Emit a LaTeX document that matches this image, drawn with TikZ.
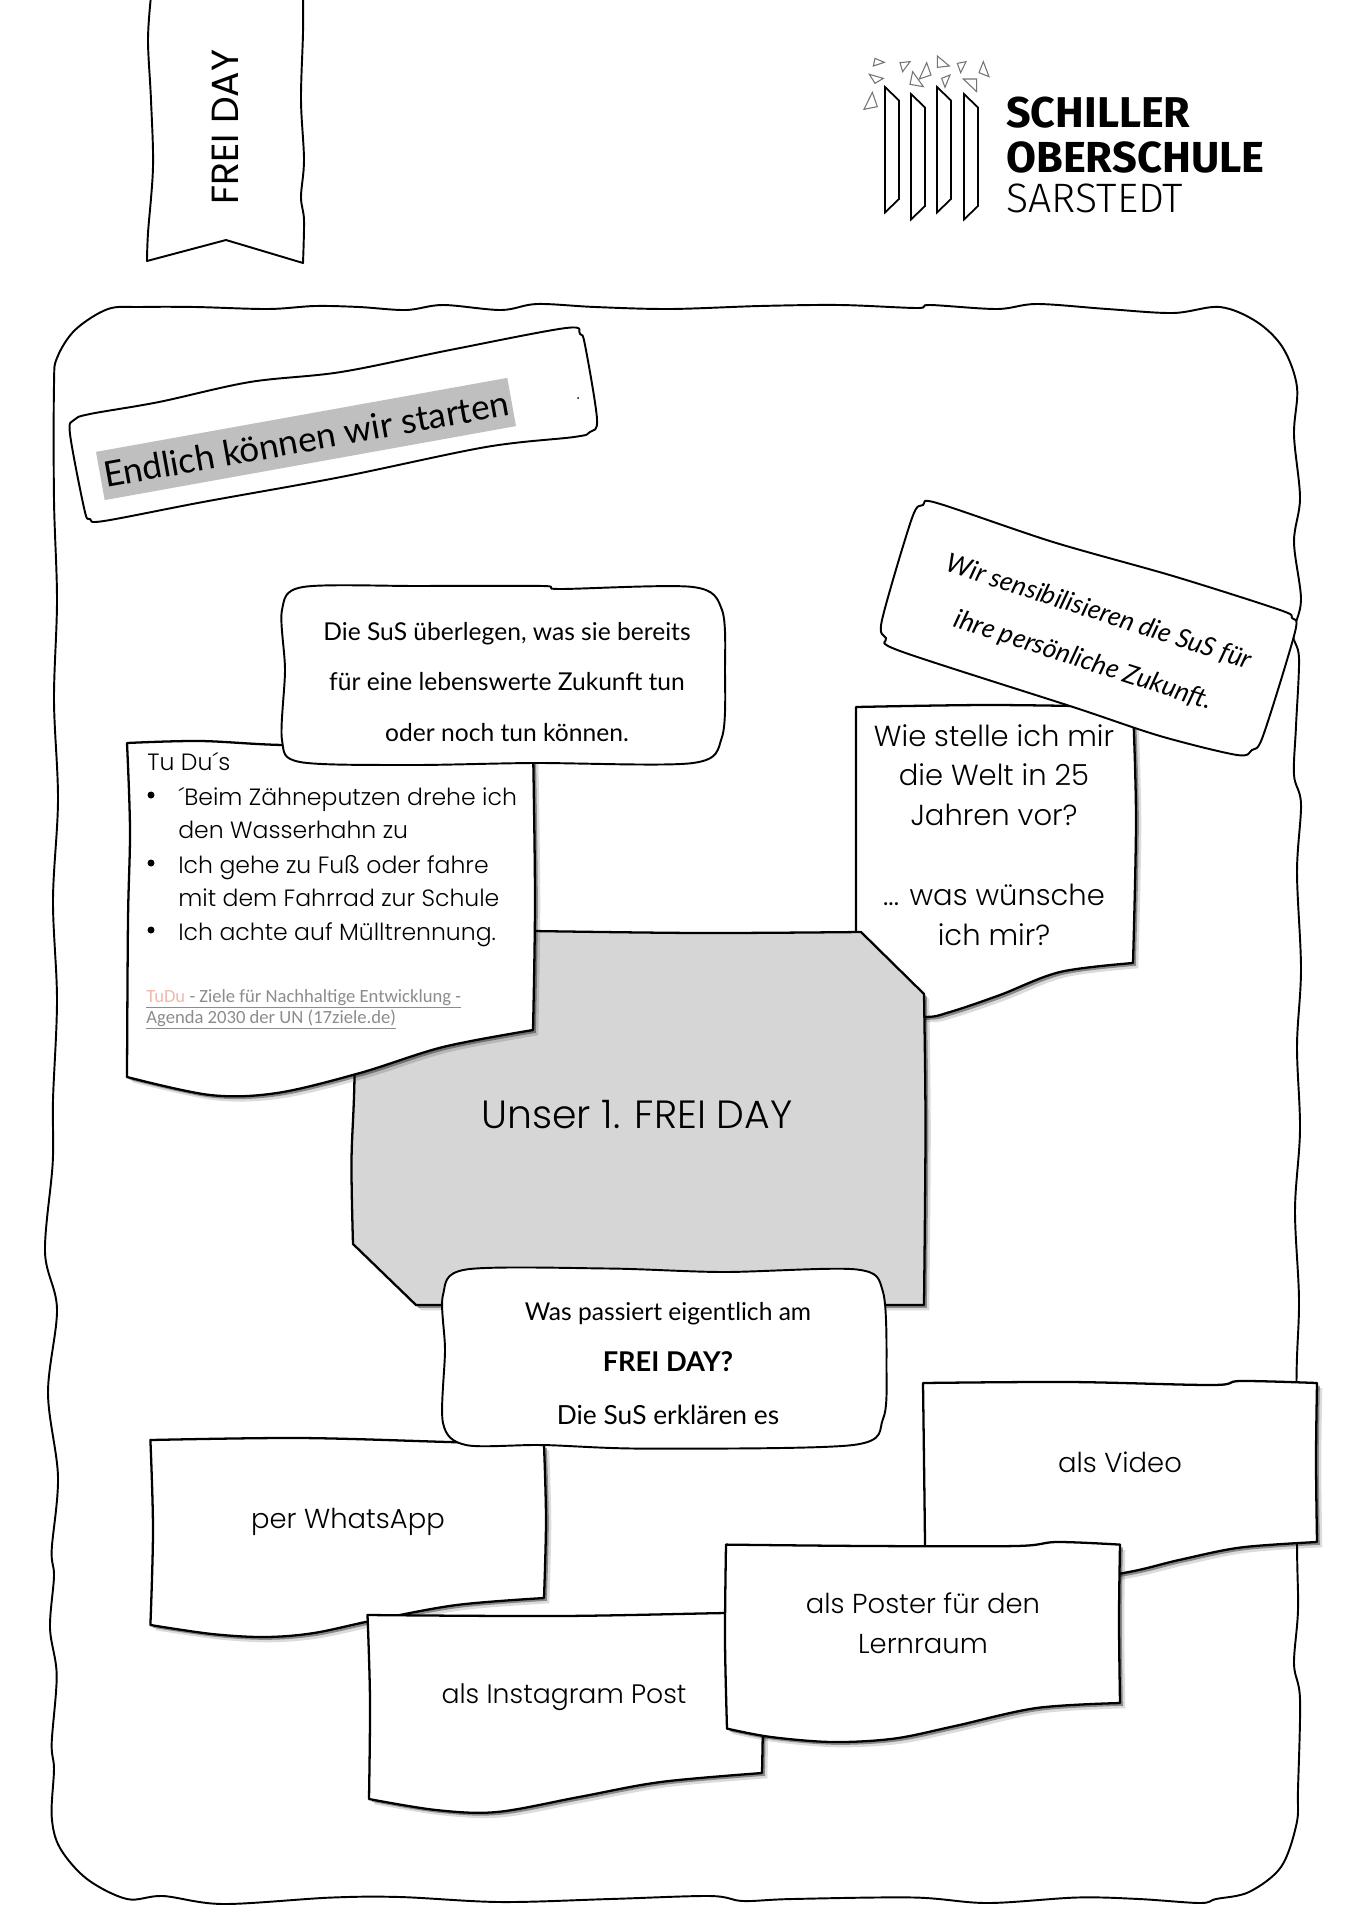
\documentclass[tikz,border=0pt]{standalone}
\usepackage{fontspec}
\setmainfont{Poppins}[UprightFont=* Light]
\newfontfamily\bannerfont{Poppins}
\newfontfamily\handfont{Lato}
\newfontfamily\linkfont{Carlito}
\newfontfamily\logofont{Fira Sans}[UprightFont=* Light,BoldFont=* Bold]
\usetikzlibrary{shadows}
\definecolor{boxgrey}{HTML}{D6D6D6}
\definecolor{markgrey}{HTML}{BFBFBF}
\definecolor{linkgrey}{HTML}{8C8C8C}
\definecolor{linkpink}{HTML}{F0B9AE}
\tikzset{
  outline/.style={draw=black,line width=1.1pt,fill=white,line join=round},
  note/.style={outline,line width=1.3pt,
     drop shadow={shadow xshift=3pt,shadow yshift=-3pt,fill=black,opacity=0.14},
     drop shadow={shadow xshift=1.6pt,shadow yshift=-1.6pt,fill=black,opacity=0.38}},
  tri/.style={draw=black!55,line width=0.6pt},
  bar/.style={draw=black,line width=1pt},
  logotext/.style={inner sep=0pt,anchor=base west},
  schrift/.style={inner sep=0pt,align=center,font=\fontsize{15.6}{22.5}\selectfont},
  hand/.style={inner sep=0pt,align=center,font=\handfont\fontsize{14}{29}\selectfont},
  linktext/.style={inner sep=0pt,anchor=base west,text=linkgrey,font=\linkfont\fontsize{10.6}{10.6}\selectfont},
  wave/.style={smooth,tension=0.55}
}
\begin{document}
\begin{tikzpicture}[x=0.02cm,y=-0.02cm]
    \useasboundingbox (0,0) rectangle (1355,1920);

    % banner
    \path[outline] plot[wave] coordinates {(151,-4) (148,40) (151,100) (153,167) (148,233) (147,261)}
       -- (226,240) -- (303,263)
       -- plot[wave] coordinates {(303,263) (304,220) (301,197) (304,160) (301,100) (303,33) (303,-4)} -- cycle;
    \node[inner sep=0pt,rotate=90,font=\bannerfont\fontsize{21.5}{20}\selectfont] (bannertext) at (225,127) {FREI DAY};

    % logo
    \foreach \x/\y in {885/87,911/94,937/87,964/94}
       \draw[bar] (\x,\y) -- +(14,13.5) -- +(14,112) -- +(0,125.5) -- cycle;
    \begin{scope}[shift={(830,30)},x=0.02cm/3,y=-0.02cm/3]
       \foreach \ax/\ay/\bx/\by/\cx/\cy in {130/108/163/97/135/85,210/98/240/95/218/125,118/133/160/145/135/160,
          290/98/303/135/268/147,248/125/280/170/240/163,322/78/358/108/322/112,382/100/408/95/392/128,
          460/95/477/140/447/128,335/145/360/135/345/172,400/147/440/147/440/185,127/187/142/230/102/238}
          \draw[tri] (\ax,\ay) -- (\bx,\by) -- (\cx,\cy) -- cycle;
    \end{scope}
    \node[logotext,font=\logofont\bfseries\fontsize{24.5}{28}\selectfont] (schiller) at (1006,127) {SCHILLER};
    \node[logotext,font=\logofont\bfseries\fontsize{24.7}{28}\selectfont] (oberschule) at (1006,172) {OBERSCHULE};
    \node[logotext,font=\logofont\fontsize{23.4}{28}\selectfont] (sarstedt) at (1006,212) {SARSTEDT};

    % frame
    \draw[black,line width=1.1pt] plot[smooth cycle,tension=0.55] coordinates {
       (54,385) (57,358) (75,330) (108,309) (141,307) (195,307) (268,309) (315,306) (359,307) (406,310)
       (443,305) (501,310) (537,304) (595,307) (670,309) (760,306) (840,305) (917,308) (930,305) (997,309)
       (1037,304) (1107,309) (1173,313) (1220,307) (1257,322) (1283,348) (1297,387) (1294,435) (1300,498)
       (1294,542) (1301,600) (1293,634) (1299,658) (1296,726) (1294,775) (1301,804) (1297,872) (1301,969)
       (1297,1046) (1300,1130) (1295,1210) (1299,1300) (1296.5,1380) (1297,1544) (1298,1610) (1294,1664)
       (1300,1699) (1298,1789) (1296.5,1824) (1281,1867) (1249,1892) (1216,1899) (1200,1903) (1139,1899)
       (1077,1897.5) (987.5,1903) (914,1897.5) (792,1899) (743,1901) (710,1896) (610,1899) (500,1902)
       (400,1897) (330,1897.6) (223,1904) (163,1896) (127,1899) (87,1879) (60,1848) (51.7,1816.5) (54,1769)
       (51.7,1743) (56.7,1675) (50,1628) (54,1576) (51.7,1550) (58,1476.6) (48,1393) (57,1309) (45,1252)
       (52.7,1163) (53,1100) (57,1000) (53,900) (58,800) (54,700) (57,600) (54,500)};

    % title box
    \path[outline] plot[smooth cycle,tension=0.55] coordinates {(90,414) (74,420) (70,434) (84.5,510) (90,519) (104,521) (203,502)
       (341,477) (486,447) (574,437) (590,432) (597,419) (585,345) (580,334) (566,328) (450,350) (341,372) (250,382) (159,402)};
    \node[fill=markgrey,rotate=10.2,minimum width=8.36cm,minimum height=0.98cm,inner sep=0pt,
       font=\handfont\fontsize{20}{26}\selectfont] (endlich) at (306,439) {Endlich können wir starten};
    \fill (578,398) circle (1);

    % upper right note
    \path[note] plot[wave] coordinates {(856,707) (990,705) (1133,707)}
       -- plot[wave] coordinates {(1133,707) (1136,820) (1133,963)}
       -- plot[wave] coordinates {(1133,963) (1060,972) (1000,995) (950,1012) (923,1017) (856,1012)} -- cycle;
    \node[schrift,font=\fontsize{16.5}{22.7}\selectfont] (welt) at (994,835) {Wie stelle ich mir\\die Welt in 25\\Jahren vor?\\[0pt]\\... was wünsche\\ich mir?};

    % upper right bubble
    \path[outline] plot[smooth cycle,tension=0.5] coordinates {(937,503) (923,505) (912,518) (882,620) (886,638) (900,651) (1073,707)
       (1160,736) (1237,755) (1252,750) (1263,736) (1295,632) (1292,618) (1280,610) (1173,576) (1053,542)};
    \node[hand,rotate=-18,font=\handfont\itshape\fontsize{15}{28.5}\selectfont] (zukunft) at (1091,637) {Wir sensibilisieren die SuS für\\ihre persönliche Zukunft.};

    % centre
    \path[note,fill=boxgrey] (354,930) -- plot[wave] coordinates {(533,931) (700,933) (861,932)} -- (924,994)
       -- plot[wave] coordinates {(924,994) (925.5,1127) (924,1305)} -- (416,1305) -- (353,1244)
       -- plot[wave] coordinates {(353,1244) (351.5,1161) (354.5,1075) (354,930)} -- cycle;
    \node[schrift,font=\fontsize{22.4}{24}\selectfont] (freiday) at (637,1115) {Unser 1. FREI DAY};

    % left note
    \path[note] plot[wave] coordinates {(127,743) (200,741) (283,745) (400,745) (533,745)}
       -- plot[wave] coordinates {(533,745) (535,900) (533,1030)}
       -- plot[wave] coordinates {(533,1030) (443,1047) (360,1073) (277,1093) (210,1095) (127,1077)}
       -- plot[wave] coordinates {(127,1077) (128,920) (130,830) (127,743)} -- cycle;
    \node[schrift,anchor=base west,font=\fontsize{13.4}{13}\selectfont] (tudu) at (147,770) {Tu Du´s};
    \foreach \y/\t [count=\i] in {805/{´Beim Zähneputzen drehe ich},838/{den Wasserhahn zu},873/{Ich gehe zu Fuß oder fahre},
        906/{mit dem Fahrrad zur Schule},940/{Ich achte auf Mülltrennung.}}
       \node[schrift,anchor=base west,font=\fontsize{13.4}{13}\selectfont] (tudu\i) at (178,\y) {\t};
    \foreach \y in {795,863,930}
       \fill (151,\y) circle (3.5);
    \node[linktext] (linka) at (146,1002)
       {\underline{\textcolor{linkpink}{TuDu} - Ziele für Nachhaltige Entwicklung -}};
    \node[linktext] (linkb) at (146,1023)
       {\underline{Agenda 2030 der UN (17ziele.de)}};

    % upper left bubble
    \path[outline] plot[smooth cycle,tension=0.5] coordinates {(303,587) (282,610) (285,670) (282,740) (300,762)
       (410,765) (533,763) (693,763) (722,737) (725,670) (722,610) (693,587) (560,589) (543,586) (420,586)};
    \node[hand] (bereits) at (507,682) {Die SuS überlegen, was sie bereits\\[0pt]für eine lebenswerte Zukunft tun\\oder noch tun können.};

    % bottom notes
    \path[note] plot[wave] coordinates {(150.4,1440) (300,1438) (448,1442) (544,1445)}
       -- plot[wave] coordinates {(544,1445) (546,1520) (544,1598)}
       -- plot[wave] coordinates {(544,1598) (456.5,1605) (375,1620) (314,1633) (265,1637) (212,1634) (150.4,1625)}
       -- plot[wave] coordinates {(150.4,1625) (153,1530) (150.4,1440)} -- cycle;
    \node[schrift] (whatsapp) at (348,1522) {per WhatsApp};

    \path[note] plot[wave] coordinates {(923,1383) (1070,1382) (1212,1385) (1240.6,1381) (1317,1383)}
       -- plot[wave] coordinates {(1317,1383) (1316,1460) (1317,1542)}
       -- plot[wave] coordinates {(1317,1542) (1240.6,1547.5) (1179,1560) (1120,1573.6) (1000,1590) (925,1600)}
       -- plot[wave] coordinates {(925,1600) (925,1544) (923,1383)} -- cycle;
    \node[schrift] (video) at (1120,1462) {als Video};

    \path[note] plot[wave] coordinates {(367.5,1615) (560,1616) (726,1613) (761,1613)}
       -- plot[wave] coordinates {(761,1613) (763,1700) (762,1773)}
       -- plot[wave] coordinates {(762,1773) (660.6,1782) (579,1797) (497,1812) (436,1810) (369,1799)}
       -- plot[wave] coordinates {(369,1799) (370,1700) (367.5,1615)} -- cycle;
    \node[schrift,font=\fontsize{15.2}{22.5}\selectfont] (instagram) at (564,1697) {als Instagram Post};

    \path[note] plot[wave] coordinates {(726,1544.6) (870,1546) (1016,1546) (1057,1542) (1120,1544.6)}
       -- plot[wave] coordinates {(1120,1544.6) (1119,1620) (1120,1703)}
       -- plot[wave] coordinates {(1120,1703) (1036.5,1708) (955,1726) (894,1738.6) (832.4,1742) (771,1737) (727,1728.6)}
       -- plot[wave] coordinates {(727,1728.6) (725,1640) (726,1544.6)} -- cycle;
    \node[schrift] (poster) at (923,1623) {als Poster für den\\Lernraum};

    % lower centre bubble
    \path[outline] plot[smooth cycle,tension=0.5] coordinates {(466,1269.5) (443,1295) (445,1350) (443,1423) (466,1445)
       (543,1445) (646,1448.6) (853,1445) (883,1419) (886.5,1368) (883,1292) (857,1269.5) (723,1272) (608,1268.5)};
    \node[hand,font=\handfont\fontsize{14}{16.5}\selectfont] (passiert) at (668,1314) {Was passiert eigentlich am};
    \node[hand,font=\handfont\bfseries\fontsize{15.5}{16.5}\selectfont] (fragetag) at (668,1362) {FREI DAY?};
    \node[hand,font=\handfont\fontsize{15}{16.5}\selectfont] (erklaeren) at (668,1415) {Die SuS erklären es};
\end{tikzpicture}
\end{document}
